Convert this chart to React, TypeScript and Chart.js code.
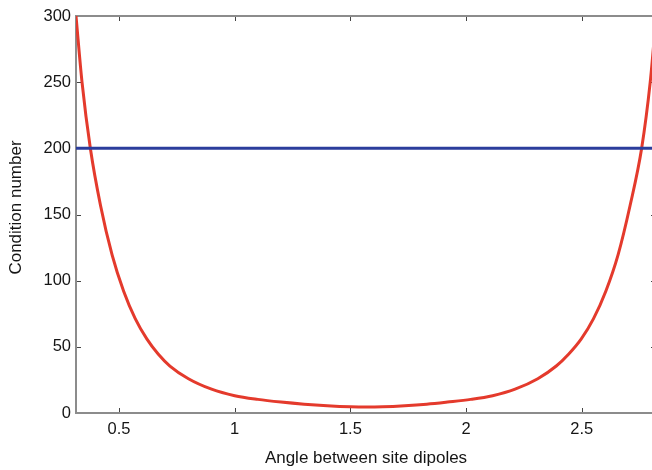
import React, { useEffect, useRef } from "react";
import { Chart, registerables } from "chart.js";

Chart.register(...registerables);

const angles = [
  0.314, 0.34, 0.376, 0.42, 0.47, 0.52, 0.57, 0.62, 0.67, 0.72, 0.8, 0.9, 1.0,
  1.1, 1.2, 1.3, 1.4, 1.5, 1.57, 1.64, 1.735, 1.83, 1.92, 2.02, 2.115, 2.212,
  2.31, 2.39, 2.443, 2.498, 2.551, 2.604, 2.657, 2.709, 2.759, 2.796, 2.822,
  2.84,
];
const conditionNumbers = [
  300, 250, 200, 156.8, 119.5, 92, 71.3, 56, 44.4, 35.5, 25.9, 18, 13.1, 10.3,
  8.3, 6.7, 5.5, 4.7, 4.5, 4.7, 5.5, 6.7, 8.3, 10.3, 13.1, 18, 25.9, 35.5,
  44.4, 56, 71.3, 92, 119.5, 156.8, 200, 250, 300, 331,
];

// Threshold line
const thresholdX = [0.314, 2.84];
const thresholdY = [200, 200];

const xRange = [0.314, 2.821];
const yRange = [0, 300];
const xTicks = [0.5, 1, 1.5, 2, 2.5];
const yTicks = [0, 50, 100, 150, 200, 250, 300];
const xTitle = "Angle between site dipoles";
const yTitle = "Condition number";

const FONT = "'Liberation Sans', Arial, Helvetica, sans-serif";
const TEXT = "#151515";

const framePlugin = {
  id: "matlabFrame",
  beforeDatasetsDraw(chart: any) {
    const { ctx, chartArea } = chart;
    const { left, right, top, bottom } = chartArea;
    const x = chart.scales.x;
    const y = chart.scales.y;
    ctx.save();
    ctx.beginPath();
    ctx.strokeStyle = "#444444";
    ctx.lineWidth = 1;
    const tl = 5;
    x.ticks.forEach((t: any) => {
      const px = Math.round(x.getPixelForValue(t.value)) + 0.5;
      ctx.moveTo(px, bottom);
      ctx.lineTo(px, bottom - tl);
      ctx.moveTo(px, top);
      ctx.lineTo(px, top + tl);
    });
    y.ticks.forEach((t: any) => {
      const py = Math.round(y.getPixelForValue(t.value)) + 0.5;
      ctx.moveTo(left, py);
      ctx.lineTo(left + tl, py);
      ctx.moveTo(right, py);
      ctx.lineTo(right - tl, py);
    });
    ctx.stroke();
    ctx.strokeStyle = "#8c8c8c";
    ctx.lineWidth = 2;
    ctx.strokeRect(left, top, right - left, bottom - top);
    ctx.restore();
  },
  afterDraw(chart: any) {
    // y-axis title (MATLAB places it slightly above the axis middle)
    const { ctx, chartArea } = chart;
    const cy = (chartArea.top + chartArea.bottom) / 2 - 7;
    ctx.save();
    ctx.translate(16, cy);
    ctx.rotate(-Math.PI / 2);
    ctx.font = `17px ${FONT}`;
    ctx.fillStyle = TEXT;
    ctx.textAlign = "center";
    ctx.textBaseline = "middle";
    ctx.fillText(yTitle, 0, 0);
    ctx.restore();
  },
};

export default function App() {
  const ref = useRef<HTMLCanvasElement | null>(null);

  useEffect(() => {
    if (!ref.current) return;
    const curve = angles.map((a, i) => ({ x: a, y: conditionNumbers[i] }));
    const threshold = thresholdX.map((a, i) => ({ x: a, y: thresholdY[i] }));
    const chart = new Chart(ref.current, {
      type: "line",
      data: {
        datasets: [
          {
            data: threshold,
            borderColor: "#2b3d9c",
            borderWidth: 3,
            pointRadius: 0,
            tension: 0,
          },
          {
            data: curve,
            borderColor: "#e43a2c",
            borderWidth: 3,
            pointRadius: 0,
            cubicInterpolationMode: "monotone",
          },
        ],
      },
      options: {
        animation: false,
        responsive: false,
        maintainAspectRatio: false,
        layout: { padding: { top: 16, left: 0, right: 0, bottom: 0 } },
        plugins: {
          legend: { display: false },
          tooltip: { enabled: false },
        },
        scales: {
          x: {
            type: "linear",
            min: xRange[0],
            max: xRange[1],
            afterBuildTicks: (s: any) => {
              s.ticks = xTicks.map((v) => ({ value: v }));
            },
            afterFit: (s: any) => {
              s.height = 57;
            },
            grid: { display: false, drawTicks: false },
            border: { display: false },
            ticks: {
              padding: 7,
              color: TEXT,
              font: { family: FONT, size: 16.5 },
              maxRotation: 0,
              autoSkip: false,
              callback: (v: any) => String(v),
            },
            title: {
              display: true,
              text: xTitle,
              color: TEXT,
              font: { family: FONT, size: 17 },
              padding: { top: 0, bottom: 1 },
            },
          },
          y: {
            type: "linear",
            min: yRange[0],
            max: yRange[1],
            afterBuildTicks: (s: any) => {
              s.ticks = yTicks.map((v) => ({ value: v }));
            },
            afterFit: (s: any) => {
              s.width = 76;
            },
            grid: { display: false, drawTicks: false },
            border: { display: false },
            ticks: {
              padding: 5,
              color: TEXT,
              font: { family: FONT, size: 16.5 },
              autoSkip: false,
              callback: (v: any) => String(v),
            },
            title: { display: false, text: yTitle },
          },
        },
      },
      plugins: [framePlugin],
    } as any);
    return () => chart.destroy();
  }, []);

  return (
    <div
      style={{
        position: "fixed",
        left: 0,
        top: 0,
        width: 652,
        height: 470,
        overflow: "hidden",
        background: "#ffffff",
      }}
    >
      <canvas ref={ref} width={656} height={470} style={{ display: "block" }} />
    </div>
  );
}
